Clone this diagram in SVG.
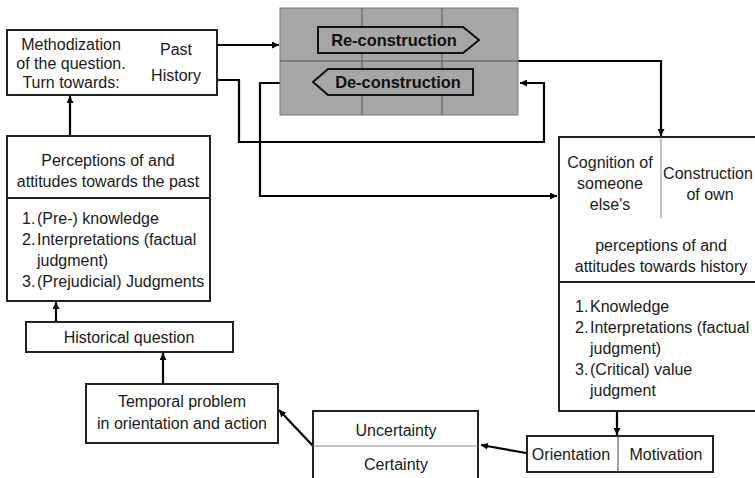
<svg xmlns="http://www.w3.org/2000/svg" width="755" height="478" viewBox="0 0 755 478">
<style>
text{font-family:"Liberation Sans",Arial,sans-serif;font-size:16px;fill:#1a1a1a}
.c{text-anchor:middle}
.b{font-weight:bold;font-size:16.4px;fill:#111}
.box{fill:#fff;stroke:#222;stroke-width:2}
.thin{stroke:#8a8a8a;stroke-width:1;fill:none}
.div{stroke:#222;stroke-width:2;fill:none}
.conn{fill:none;stroke:#000;stroke-width:2.2}
</style>
<defs>
<marker id="ah" viewBox="0 0 8 8" refX="8" refY="4" markerWidth="7" markerHeight="7" markerUnits="userSpaceOnUse" orient="auto">
<path d="M0,0 L8,4 L0,8 z" fill="#000"/>
</marker>
</defs>

<g id="connectors">
<path class="conn" d="M217,45 H279" marker-end="url(#ah)"/>
<path class="conn" d="M217,80 H239 V142 H544 V83 H520" marker-end="url(#ah)"/>
<path class="conn" d="M280,83 H260 V196 H557" marker-end="url(#ah)"/>
<path class="conn" d="M518,61 H661 V136" marker-end="url(#ah)"/>
<path class="conn" d="M70,136 V96" marker-end="url(#ah)"/>
<path class="conn" d="M56,322 V302" marker-end="url(#ah)"/>
<path class="conn" d="M163,384 V353" marker-end="url(#ah)"/>
<path class="conn" d="M617,411 V435" marker-end="url(#ah)"/>
<path class="conn" d="M526,453 L481,445" marker-end="url(#ah)"/>
<path class="conn" d="M313,446 L279,410" marker-end="url(#ah)"/>
</g>

<g id="methodization">
<rect class="box" x="7" y="30" width="210" height="65"/>
<text class="c" x="71" y="50">Methodization</text>
<text class="c" x="71" y="69">of the question.</text>
<text class="c" x="71" y="88">Turn towards:</text>
<text class="c" x="176" y="55">Past</text>
<text class="c" x="176" y="81">History</text>
</g>

<g id="construction">
<rect x="280" y="8" width="238" height="107" fill="#a6a6a6" stroke="#7a7a7a" stroke-width="1"/>
<line x1="280" y1="61" x2="518" y2="61" stroke="#555" stroke-width="1"/>
<line x1="362" y1="8" x2="362" y2="115" stroke="#555" stroke-width="1"/>
<line x1="442" y1="8" x2="442" y2="115" stroke="#555" stroke-width="1"/>
<path d="M318,27 H463 L479,40 L463,53 H318 Z" fill="#a6a6a6" stroke="#111" stroke-width="2"/>
<text class="c b" x="394" y="46">Re-construction</text>
<path d="M473,69 V95 H328 L313,82 L328,69 Z" fill="#a6a6a6" stroke="#111" stroke-width="2"/>
<text class="c b" x="398" y="88">De-construction</text>
</g>

<g id="history-perceptions">
<rect class="box" x="559" y="137" width="210" height="274"/>
<line class="thin" x1="661" y1="137" x2="661" y2="218"/>
<line class="div" x1="559" y1="282" x2="769" y2="282"/>
<text class="c" x="610" y="168">Cognition of</text>
<text class="c" x="610" y="189">someone</text>
<text class="c" x="610" y="210">else's</text>
<text class="c" x="708" y="179">Construction</text>
<text class="c" x="710" y="200">of own</text>
<text class="c" x="661" y="251">perceptions of and</text>
<text class="c" x="661" y="272">attitudes towards history</text>
<text x="575" y="312">1.</text><text x="590" y="312">Knowledge</text>
<text x="575" y="333">2.</text><text x="590" y="333">Interpretations (factual</text>
<text x="590" y="354">judgment)</text>
<text x="575" y="375">3.</text><text x="590" y="375">(Critical) value</text>
<text x="590" y="396">judgment</text>
</g>

<g id="past-perceptions">
<rect class="box" x="7" y="136" width="203" height="165"/>
<line class="div" x1="7" y1="198" x2="210" y2="198"/>
<text class="c" x="108" y="166">Perceptions of and</text>
<text class="c" x="108" y="187">attitudes towards the past</text>
<text x="22" y="224">1.</text><text x="37" y="224">(Pre-) knowledge</text>
<text x="22" y="245">2.</text><text x="37" y="245">Interpretations (factual</text>
<text x="37" y="266">judgment)</text>
<text x="22" y="287">3.</text><text x="37" y="287">(Prejudicial) Judgments</text>
</g>

<g id="historical-question">
<rect class="box" x="26" y="322" width="207" height="30"/>
<text class="c" x="129" y="343">Historical question</text>
</g>

<g id="temporal-problem">
<rect class="box" x="86" y="384" width="192" height="59"/>
<text class="c" x="182" y="407">Temporal problem</text>
<text class="c" x="182" y="429">in orientation and action</text>
</g>

<g id="certainty">
<rect class="box" x="313" y="411" width="165" height="80"/>
<line class="thin" x1="313" y1="446" x2="478" y2="446"/>
<text class="c" x="396" y="436">Uncertainty</text>
<text class="c" x="396" y="470">Certainty</text>
</g>

<g id="orientation">
<rect class="box" x="527" y="436" width="186" height="36"/>
<line x1="618" y1="436" x2="618" y2="472" stroke="#444" stroke-width="1"/>
<text class="c" x="571" y="460">Orientation</text>
<text class="c" x="666" y="460">Motivation</text>
</g>
</svg>
